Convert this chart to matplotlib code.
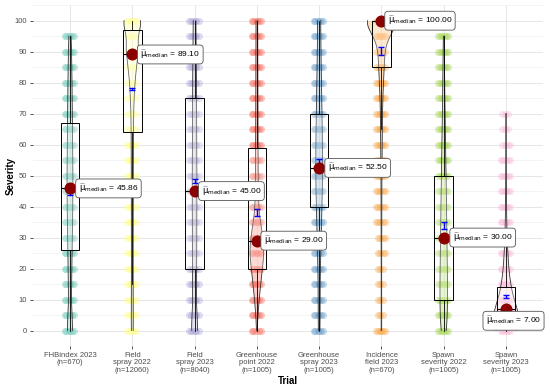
import numpy as np
import matplotlib
matplotlib.use("Agg")
import matplotlib.pyplot as plt
from matplotlib.ticker import FixedLocator

plt.rcParams['font.family'] = ['Liberation Sans', 'DejaVu Sans']
plt.rcParams['mathtext.fontset'] = 'dejavusans'

# ---------------- data ----------------
categories = ["FHBindex 2023\n(n=670)", "Field\nspray 2022\n(n=12060)",
              "Field\nspray 2023\n(n=8040)", "Greenhouse\npoint 2022\n(n=1005)",
              "Greenhouse\nspray 2023\n(n=1005)", "Incidence\nfield 2023\n(n=670)",
              "Spawn\nseverity 2022\n(n=1005)", "Spawn\nseverity 2023\n(n=1005)"]

levels = [0, 5, 10, 15, 20, 25, 30, 35, 40, 45, 50, 55, 60, 65, 70, 75, 80, 85, 90, 95, 100]

counts_fhb2023 = [55, 20, 20, 22, 25, 30, 33, 35, 38, 40, 40, 38, 36, 35, 33, 30, 28, 25, 22, 18, 0]
counts_field2022 = [300, 230, 230, 230, 230, 230, 240, 240, 240, 250, 250, 260, 270, 300, 360, 480, 700, 1100, 1750, 1350, 2900]
counts_field2023 = [800, 300, 330, 350, 380, 380, 390, 390, 400, 400, 400, 380, 360, 350, 350, 340, 320, 300, 290, 260, 310]
counts_gh_point2022 = [5, 25, 55, 95, 140, 190, 160, 75, 45, 38, 34, 32, 30, 28, 27, 26, 25, 25, 25, 25, 28]
counts_gh_spray2023 = [20, 15, 15, 18, 22, 28, 35, 42, 50, 56, 60, 60, 58, 55, 50, 47, 42, 36, 32, 28, 40]
counts_incidence2023 = [6, 3, 3, 3, 3, 4, 4, 5, 5, 5, 8, 8, 10, 10, 15, 20, 30, 40, 50, 60, 380]
counts_spawn2022 = [65, 75, 80, 80, 75, 70, 70, 62, 60, 52, 50, 42, 38, 32, 28, 24, 20, 16, 12, 10, 0]
counts_spawn2023 = [250, 300, 170, 100, 60, 40, 25, 15, 12, 8, 6, 5, 4, 3, 3, 0, 0, 0, 0, 0, 0]

medians = [45.86, 89.10, 45.00, 29.00, 52.50, 100.00, 30.00, 7.00]
means = [45.5, 78.0, 48.3, 38.1, 54.0, 90.2, 33.9, 10.9]
mean_ci = [1.8, 0.4, 0.6, 1.2, 1.2, 1.3, 1.1, 0.5]
q1 = [26, 64, 20, 20, 40, 85, 10, 1]
q3 = [67, 97, 75, 59, 70, 100, 50, 14]

all_counts = [counts_fhb2023, counts_field2022, counts_field2023, counts_gh_point2022,
              counts_gh_spray2023, counts_incidence2023, counts_spawn2022, counts_spawn2023]

# ---------------- style ----------------
colors = ['#8DD3C7', '#FFFFB3', '#BEBADA', '#FB8072', '#80B1D3', '#FDB462', '#B3DE69', '#FCCDE5']
point_colors = ['#6CC9B8', '#FFFF8C', '#A9A4D6', '#F66A5C', '#6A9FCB', '#FCA646', '#A2D74C', '#F9B9DA']
bandwidths = [4, 3, 4, 4, 4, 4, 4, 3]
jit = np.array([-0.06, 0.03, -0.02, 0.065, -0.085, 0.0])

W, H = 550, 392
fig = plt.figure(figsize=(W / 100, H / 100), dpi=100)
fig.patch.set_facecolor('white')
left, right, top, bottom = 32.6, 543.4, 5.2, 346
ax = fig.add_axes([left / W, 1 - bottom / H, (right - left) / W, (bottom - top) / H])

x = np.arange(1, len(categories) + 1)
lv = np.array(levels, dtype=float)

# points
for i, cnt in enumerate(all_counts):
    for v, c in zip(lv, cnt):
        k = min(c, len(jit))
        if k <= 0:
            continue
        offs = jit[:k]
        ax.scatter(x[i] + offs, np.full(len(offs), v), s=26, color=point_colors[i],
                   alpha=0.38, linewidths=0, zorder=1)

# violins (area scaled, trimmed)
dens_list = []
for i, cnt in enumerate(all_counts):
    w = np.array(cnt, dtype=float)
    vals = lv[w > 0]
    ww = w[w > 0]
    yy = np.linspace(vals.min(), vals.max(), 400)
    h = bandwidths[i]
    d = (ww[None, :] * np.exp(-0.5 * ((yy[:, None] - vals[None, :]) / h) ** 2)).sum(1)
    d = d / ww.sum() / (h * np.sqrt(2 * np.pi))
    dens_list.append((yy, d))
gmax = max(d.max() for _, d in dens_list)
half = 0.225
for i, (yy, d) in enumerate(dens_list):
    wd = d / gmax * half
    ax.fill_betweenx(yy, x[i] - wd, x[i] + wd, facecolor=colors[i], alpha=0.4,
                     edgecolor='none', zorder=2)
    ax.plot(x[i] - wd, yy, color='#333333', lw=0.6, zorder=2.1)
    ax.plot(x[i] + wd, yy, color='#333333', lw=0.6, zorder=2.1)

# boxes
stats = []
for i, cnt in enumerate(all_counts):
    w = np.array(cnt)
    vals = lv[w > 0]
    iqr = q3[i] - q1[i]
    lo = vals[vals >= q1[i] - 1.5 * iqr].min()
    hi = vals[vals <= q3[i] + 1.5 * iqr].max()
    stats.append(dict(med=medians[i], q1=q1[i], q3=q3[i], whislo=lo, whishi=hi, fliers=[]))
ax.bxp(stats, positions=x, widths=0.3, showcaps=False, showfliers=False, patch_artist=True,
       boxprops=dict(facecolor=(1, 1, 1, 0.25), edgecolor='black', linewidth=0.7),
       whiskerprops=dict(color='black', linewidth=0.6),
       medianprops=dict(color='black', linewidth=0.8), zorder=3)

# means with CI
ax.errorbar(x, means, yerr=mean_ci, fmt='none', ecolor='#0000FF', elinewidth=1.0,
            capsize=2.5, capthick=1.0, zorder=4)

# medians
ax.scatter(x, medians, s=75, color='#8B0000', zorder=5, linewidths=0)

label_offsets = [(6.2, 0), (5.8, 0), (5, 0), (5, 0), (6.2, 0), (4.5, 0), (6.5, 0), (5.4, -8.6)]
for i in range(len(x)):
    txt = r"$\widehat{\mathrm{\mu}}_{\mathrm{median}}$ = " + f"{medians[i]:.2f}"
    dx, dy = label_offsets[i]
    ha = 'center' if i == 7 else 'left'
    ax.annotate(txt, xy=(x[i], medians[i]), xytext=(dx, dy),
                textcoords='offset points', ha=ha, va='center', fontsize=6, color='black',
                bbox=dict(boxstyle='round,pad=0.35,rounding_size=0.4', fc='white',
                          ec='#555555', lw=0.6), zorder=6)

# axes styling
ax.set_xlim(0.4, 8.6)
ax.set_ylim(-5, 105)
ax.set_xticks(x)
ax.set_xticklabels(categories, fontsize=5.5, color='#4D4D4D', linespacing=1.15)
ax.set_yticks(np.arange(0, 101, 10))
ax.yaxis.set_minor_locator(FixedLocator(np.arange(-5, 106, 10)))
ax.tick_params(axis='y', which='major', labelsize=5.5, labelcolor='#4D4D4D', length=2.5,
               width=0.6, color='#333333', pad=1.5)
ax.tick_params(axis='y', which='minor', length=0)
ax.tick_params(axis='x', length=2.5, width=0.6, color='#333333', pad=1.5)
ax.grid(True, which='major', axis='both', color='#E6E6E6', lw=0.7, zorder=0)
ax.grid(True, which='minor', axis='y', color='#EEEEEE', lw=0.5, zorder=0)
ax.set_axisbelow(True)
for s in ax.spines.values():
    s.set_visible(False)

fig.text(288 / W, 1 - 381.5 / H, "Trial", ha='center', va='center', fontsize=7, fontweight='bold')
fig.text(11 / W, 1 - 175.6 / H, "Severity", ha='center', va='center', rotation=90,
         fontsize=7, fontweight='bold')

fig.savefig("out.png", dpi=100, facecolor='white')
